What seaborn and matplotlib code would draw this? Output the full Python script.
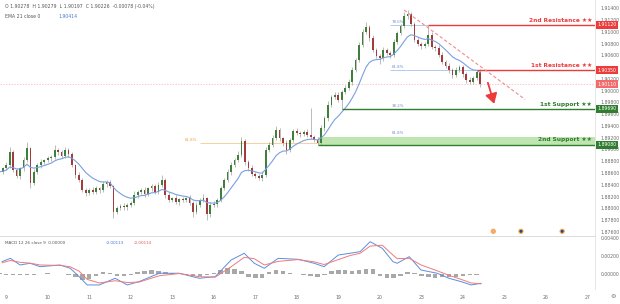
import numpy as np
import pandas as pd
import matplotlib
matplotlib.use("Agg")
import matplotlib.pyplot as plt
import seaborn as sns
from matplotlib.transforms import blended_transform_factory
from matplotlib.ticker import FormatStrFormatter

# ---------------- data (2-hour candles) ----------------
closes = [1.8862, 1.8868, 1.8874, 1.8896, 1.8865, 1.8855, 1.8868, 1.8882, 1.8902, 1.8843,
          1.8862, 1.8874, 1.8879, 1.8882, 1.8885, 1.8887, 1.8899, 1.8896, 1.8889, 1.8899,
          1.8892, 1.8874, 1.8857, 1.8848, 1.8831, 1.8826, 1.8831, 1.8828, 1.8834, 1.8831,
          1.8841, 1.8845, 1.8838, 1.8794, 1.8800, 1.8804, 1.8802, 1.8806, 1.8809, 1.8823,
          1.8828, 1.8831, 1.8824, 1.8834, 1.8838, 1.8828, 1.8840, 1.8848, 1.8823, 1.8814,
          1.8817, 1.8811, 1.8816, 1.8814, 1.8817, 1.8809, 1.8794, 1.8806, 1.8814, 1.8817,
          1.8790, 1.8806, 1.8807, 1.8814, 1.8834, 1.8848, 1.8862, 1.8874, 1.8882, 1.8891,
          1.8914, 1.8879, 1.8868, 1.8858, 1.8855, 1.8851, 1.8857, 1.8899, 1.8908, 1.8919,
          1.8933, 1.8919, 1.8911, 1.8899, 1.8916, 1.8931, 1.8928, 1.8926, 1.8930, 1.8925,
          1.8921, 1.8916, 1.8911, 1.8936, 1.8953, 1.8976, 1.8989, 1.8993, 1.8984, 1.8998,
          1.9004, 1.9015, 1.9035, 1.9052, 1.9078, 1.9100, 1.9108, 1.9089, 1.9069, 1.9059,
          1.9055, 1.9069, 1.9064, 1.9061, 1.9083, 1.9098, 1.9110, 1.9127, 1.9130, 1.9113,
          1.9086, 1.9079, 1.9076, 1.9079, 1.9095, 1.9074, 1.9072, 1.9061, 1.9049, 1.9042,
          1.9035, 1.9027, 1.9035, 1.9040, 1.9028, 1.9018, 1.9015, 1.9021, 1.9032, 1.9011]
first_open = 1.8858
up_wick_pips = [4, 3, 5, 9, 3, 4, 2, 5, 10, 3,
                4, 3, 5, 2, 4, 3, 9, 4, 3, 5,
                3, 4, 2, 5, 3, 4, 3, 5, 4, 3,
                5, 3, 4, 2, 4, 3, 5, 3, 4, 6,
                3, 4, 5, 3, 4, 3, 5, 9, 3, 4,
                3, 5, 2, 4, 3, 5, 3, 4, 3, 7,
                3, 4, 5, 3, 4, 3, 5, 4, 3, 6,
                7, 4, 3, 5, 3, 4, 6, 5, 4, 5,
                7, 4, 3, 5, 4, 3, 5, 4, 3, 5,
                46, 4, 3, 5, 4, 6, 3, 5, 4, 3,
                5, 4, 6, 3, 5, 4, 9, 3, 5, 4,
                3, 5, 4, 3, 5, 4, 3, 6, 7, 4,
                3, 5, 4, 3, 17, 4, 3, 5, 4, 3,
                5, 4, 6, 3, 4, 3, 5, 4, 3, 4]
low_wick_pips = [3, 4, 3, 5, 4, 3, 5, 4, 3, 8,
                 4, 3, 5, 4, 3, 4, 3, 5, 4, 3,
                 4, 3, 5, 4, 3, 5, 4, 3, 4, 5,
                 3, 4, 3, 10, 4, 3, 5, 4, 3, 4,
                 5, 3, 4, 3, 5, 4, 3, 4, 5, 3,
                 4, 3, 5, 4, 3, 4, 9, 3, 4, 3,
                 10, 4, 3, 5, 4, 3, 4, 5, 3, 4,
                 3, 5, 4, 3, 4, 3, 5, 4, 3, 4,
                 3, 4, 5, 7, 4, 3, 4, 5, 3, 4,
                 3, 4, 3, 3, 4, 5, 3, 4, 4, 15,
                 4, 3, 5, 4, 3, 4, 3, 5, 4, 3,
                 9, 4, 3, 5, 4, 3, 4, 3, 5, 4,
                 3, 4, 5, 3, 4, 3, 5, 4, 3, 4,
                 5, 5, 4, 3, 4, 5, 3, 4, 3, 4]
day_labels = ["9", "10", "11", "12", "13", "16", "17", "18", "19", "20",
              "23", "24", "25", "26", "27"]
price_ticks = [1.914, 1.912, 1.910, 1.908, 1.906, 1.904, 1.902, 1.900, 1.898, 1.896,
               1.894, 1.892, 1.890, 1.888, 1.886, 1.884, 1.882, 1.880, 1.878, 1.876]

# MACD (time in candle units)
macd_t = [0.8, 3.2, 6.0, 8.9, 11.8, 17.6, 20.5, 23.1, 25.4, 28.9,
          33.5, 37.0, 40.4, 46.2, 52.0, 57.8, 62.4, 67.0, 70.8, 73.7,
          76.6, 80.6, 86.4, 91.0, 93.9, 98.0, 101.4, 104.3, 107.2, 110.7,
          113.8, 115.0, 118.5, 121.9, 126.6, 130.0, 133.5, 136.4, 139.3]
macd_line = [0.00137, 0.00174, 0.00100, 0.00119, 0.00081, 0.00100, 0.00063, -0.00030, -0.00122, -0.00122,
             -0.00048, -0.00122, -0.00085, 0.00008, 0.00008, -0.00048, -0.00030, 0.00155, 0.00230, 0.00119,
             0.00063, 0.00174, 0.00163, 0.00119, 0.00081, 0.00211, 0.00230, 0.00248, 0.00359, 0.00285,
             0.00137, 0.00119, 0.00192, 0.00044, 0.00008, -0.00048, -0.00085, -0.00122, -0.00103]
signal_line = [0.00125, 0.00150, 0.00130, 0.00120, 0.00100, 0.00095, 0.00080, 0.00030, -0.00060, -0.00100,
               -0.00075, -0.00095, -0.00090, -0.00020, 0.00005, -0.00030, -0.00035, 0.00080, 0.00185, 0.00170,
               0.00100, 0.00140, 0.00160, 0.00135, 0.00105, 0.00160, 0.00205, 0.00230, 0.00310, 0.00320,
               0.00210, 0.00170, 0.00175, 0.00100, 0.00035, -0.00015, -0.00060, -0.00100, -0.00110]
hist_vals = [0.00008, -0.00010, -0.00012, -0.00008, -0.00010, -0.00006, 0.00004, 0.00006, -0.00004, 0.00005,
             -0.00006, -0.00030, -0.00065, -0.00055, -0.00020, 0.00018, 0.00012, -0.00020, -0.00025, -0.00015,
             0.00020, 0.00035, 0.00040, 0.00030, 0.00020, 0.00010, 0.00005, -0.00010, -0.00025, -0.00020,
             -0.00010, 0.00015, 0.00045, 0.00070, 0.00060, 0.00035, -0.00030, -0.00050, -0.00040, 0.00025,
             0.00040, 0.00030, 0.00008, 0.00004, -0.00010, -0.00025, -0.00030, -0.00010, 0.00030, 0.00045,
             0.00040, 0.00030, 0.00045, 0.00060, 0.00050, -0.00020, -0.00045, -0.00050, -0.00020, 0.00025,
             0.00015, -0.00025, -0.00035, -0.00040, -0.00030, -0.00035, -0.00030, -0.00025, -0.00015, -0.00008]

res2, res1 = 1.9112, 1.9035
last_price = 1.9011
sup1, sup2, sup2_top = 1.8969, 1.8908, 1.8922
fib_orange = 1.8911
fib_blue = [(1.9112, "78.6%"), (1.9035, "61.8%"), (1.8969, "38.2%"), (1.8922, "61.8%")]
trend_x = [117.0, 152.0]
trend_y = [1.9137, 1.8985]
arrow_from = (141.0, 1.9018)
arrow_to = (143.3, 1.8973)
event_x = [142.8, 150.8, 162.7]
event_faces = ["#f2a3a3", "#2f3fa0", "#2f3fa0"]

header_ohlc = "O 1.90278  H 1.90279  L 1.90197  C 1.90226  -0.00078 (-0.04%)"
header_ema = "EMA 21 close 0"
header_ema_val = "1.90414"
macd_title = "MACD 12 26 close 9  0.00000"
macd_vals = ["-0.00113", "-0.00114"]

# ---------------- derived frames ----------------
df = pd.DataFrame({"idx": np.arange(len(closes)), "close": closes})
df["open"] = [first_open] + closes[:-1]
df["high"] = df[["open", "close"]].max(axis=1) + np.array(up_wick_pips) / 10000
df["low"] = df[["open", "close"]].min(axis=1) - np.array(low_wick_pips) / 10000
df["ema"] = df["close"].ewm(span=11, adjust=False).mean()
mdf = pd.DataFrame({"t": macd_t, "macd": macd_line, "signal": signal_line})
hdf = pd.DataFrame({"t": np.arange(len(hist_vals)) * 2, "hist": hist_vals})

# ---------------- style ----------------
sns.set_theme(style="white")
plt.rcParams["font.family"] = ["DejaVu Sans"]

W, H = 620, 304
fig = plt.figure(figsize=(6.2, 3.04), dpi=100)
ax = fig.add_axes([0, (H - 236) / H, 595 / W, 236 / H])
axm = fig.add_axes([0, (H - 289) / H, 595 / W, 52 / H], sharex=ax)

XMIN, XMAX = 0.2, 172.2
UP, DOWN, WICK = "#3f7f3a", "#a23b3b", "#a0a0a0"
RED, GREEN = "#ec3b3b", "#2f7d2f"

# candles
ax.vlines(df["idx"], df["low"], df["high"], color=WICK, lw=0.5, zorder=2)
body_h = (df["close"] - df["open"]).abs().clip(lower=0.00006)
body_b = df[["open", "close"]].min(axis=1)
colors = [UP if c >= o else DOWN for o, c in zip(df["open"], df["close"])]
ax.bar(df["idx"], body_h, bottom=body_b, width=0.5, color=colors, lw=0, zorder=3)

# EMA
sns.lineplot(data=df, x="idx", y="ema", ax=ax, color="#7b9fe0", lw=0.8, zorder=4)

# current price dotted line
ax.axhline(last_price, color="#f3b0b0", lw=0.5, ls=(0, (2, 2)), zorder=1)

# resistance / support lines
ax.hlines(res2, 124, XMAX, color=RED, lw=1.0, zorder=5)
ax.hlines(res1, 138, XMAX, color=RED, lw=1.0, zorder=5)
ax.hlines(sup1, 99, XMAX, color=GREEN, lw=1.0, zorder=5)
ax.fill_between([92, XMAX], sup2, sup2_top, color="#bfe5b0", lw=0, zorder=1)
ax.hlines(sup2, 92, XMAX, color=GREEN, lw=1.0, zorder=5)

# fib guide lines and labels
ax.hlines(fib_orange, 58, 92, color="#f7c98a", lw=0.6, zorder=1)
ax.text(55.5, fib_orange + 0.0002, "61.8%", color="#f0a040", fontsize=2.8, va="bottom", ha="center")
ax.hlines(fib_blue[0][0], 113, 124, color="#a9c2ea", lw=0.6, zorder=1)
ax.hlines(fib_blue[1][0], 113, 138, color="#a9c2ea", lw=0.6, zorder=1)
for lvl, lab in fib_blue:
    ax.text(115.3, lvl + 0.0002, lab, color="#6d8fcf", fontsize=2.8, va="bottom", ha="center")

# trend line and arrow
sns.lineplot(x=trend_x, y=trend_y, ax=ax, color="#f28a8a", lw=0.8, linestyle=(0, (3, 2)), zorder=5)
ax.annotate("", xy=arrow_to, xytext=arrow_from,
            arrowprops=dict(arrowstyle="-|>,head_length=0.5,head_width=0.3", color=RED, lw=1.3), zorder=6)

# level labels
lx = 171.3
ax.text(lx, res2 + 0.00035, "2nd Resistance ★★", color=RED, fontsize=4.2, weight="bold", ha="right", va="bottom")
ax.text(lx, res1 + 0.00035, "1st Resistance ★★", color=RED, fontsize=4.2, weight="bold", ha="right", va="bottom")
ax.text(lx, sup1 + 0.00035, "1st Support ★★", color=GREEN, fontsize=4.2, weight="bold", ha="right", va="bottom")
ax.text(lx, sup2 + 0.0004, "2nd Support ★★", color=GREEN, fontsize=4.2, weight="bold", ha="right", va="bottom")

# event icons
ax.scatter(event_x, [1.8761] * len(event_x), s=9, c=event_faces, edgecolors="#f0b040", linewidths=0.8, zorder=6)

# axes limits & ticks (main)
ax.set_xlim(XMIN, XMAX)
ax.set_ylim(1.8753, 1.9154)
box_levels = [res2, res1, last_price, sup1, sup2]
shown = [t for t in price_ticks if min(abs(t - b) for b in box_levels) > 0.0007]
ax.yaxis.tick_right()
ax.set_yticks(shown)
ax.yaxis.set_major_formatter(FormatStrFormatter("%.5f"))
ax.tick_params(axis="y", labelsize=3.3, colors="#6a6a6a", length=0, pad=4)
ax.tick_params(axis="x", labelbottom=False, length=0)
ax.set_xlabel("")
ax.set_ylabel("")
for s in ["top", "left"]:
    ax.spines[s].set_visible(False)
ax.spines["right"].set_color("#e2e2e2")
ax.spines["bottom"].set_color("#d6d6d6")
for sp in ["right", "bottom"]:
    ax.spines[sp].set_linewidth(0.6)

# price boxes on the right axis
tr = blended_transform_factory(ax.transAxes, ax.transData)
for lvl, col in [(res2, RED), (res1, RED), (last_price, "#f26a6a"), (sup1, GREEN), (sup2, GREEN)]:
    ax.text(1.004, lvl, f"{lvl:.5f}", transform=tr, fontsize=3.3, color="white", va="center", ha="left",
            bbox=dict(boxstyle="square,pad=0.3", fc=col, ec="none"), clip_on=False, zorder=7)

# ---------------- MACD panel ----------------
axm.bar(hdf["t"], hdf["hist"], width=1.3, color="#a8a8a8", lw=0)
sns.lineplot(data=mdf, x="t", y="macd", ax=axm, color="#5b8ee0", lw=0.7)
sns.lineplot(data=mdf, x="t", y="signal", ax=axm, color="#f07a7a", lw=0.7)
axm.set_ylim(-0.00167, 0.00411)
axm.yaxis.tick_right()
axm.set_yticks([0.0, 0.002, 0.004])
axm.yaxis.set_major_formatter(FormatStrFormatter("%.5f"))
axm.tick_params(axis="y", labelsize=3.3, colors="#6a6a6a", length=0, pad=4)
axm.set_xticks([2 + 12 * k for k in range(len(day_labels))])
axm.set_xticklabels(day_labels)
axm.tick_params(axis="x", labelsize=3.3, colors="#6a6a6a", length=0, pad=4)
axm.set_xlabel("")
axm.set_ylabel("")
for s in ["top", "left", "bottom"]:
    axm.spines[s].set_visible(False)
axm.spines["right"].set_color("#e2e2e2")
axm.spines["right"].set_linewidth(0.6)

# ---------------- header texts ----------------
fig.text(0.008, 0.988, header_ohlc, fontsize=3.3, color="#555555", va="top")
fig.text(0.008, 0.955, header_ema, fontsize=3.3, color="#555555", va="top")
fig.text(0.095, 0.955, header_ema_val, fontsize=3.3, color="#4a78d0", va="top")
fig.text(0.008, 1 - 243 / H, macd_title, fontsize=3.0, color="#555555", va="center")
fig.text(0.170, 1 - 243 / H, macd_vals[0], fontsize=3.0, color="#4a78d0", va="center")
fig.text(0.215, 1 - 243 / H, macd_vals[1], fontsize=3.0, color="#e05a5a", va="center")
fig.text(613 / W, 1 - 296 / H, "⚙", fontsize=4.5, color="#777777", ha="center", va="center")

fig.savefig("out.png", dpi=100)
